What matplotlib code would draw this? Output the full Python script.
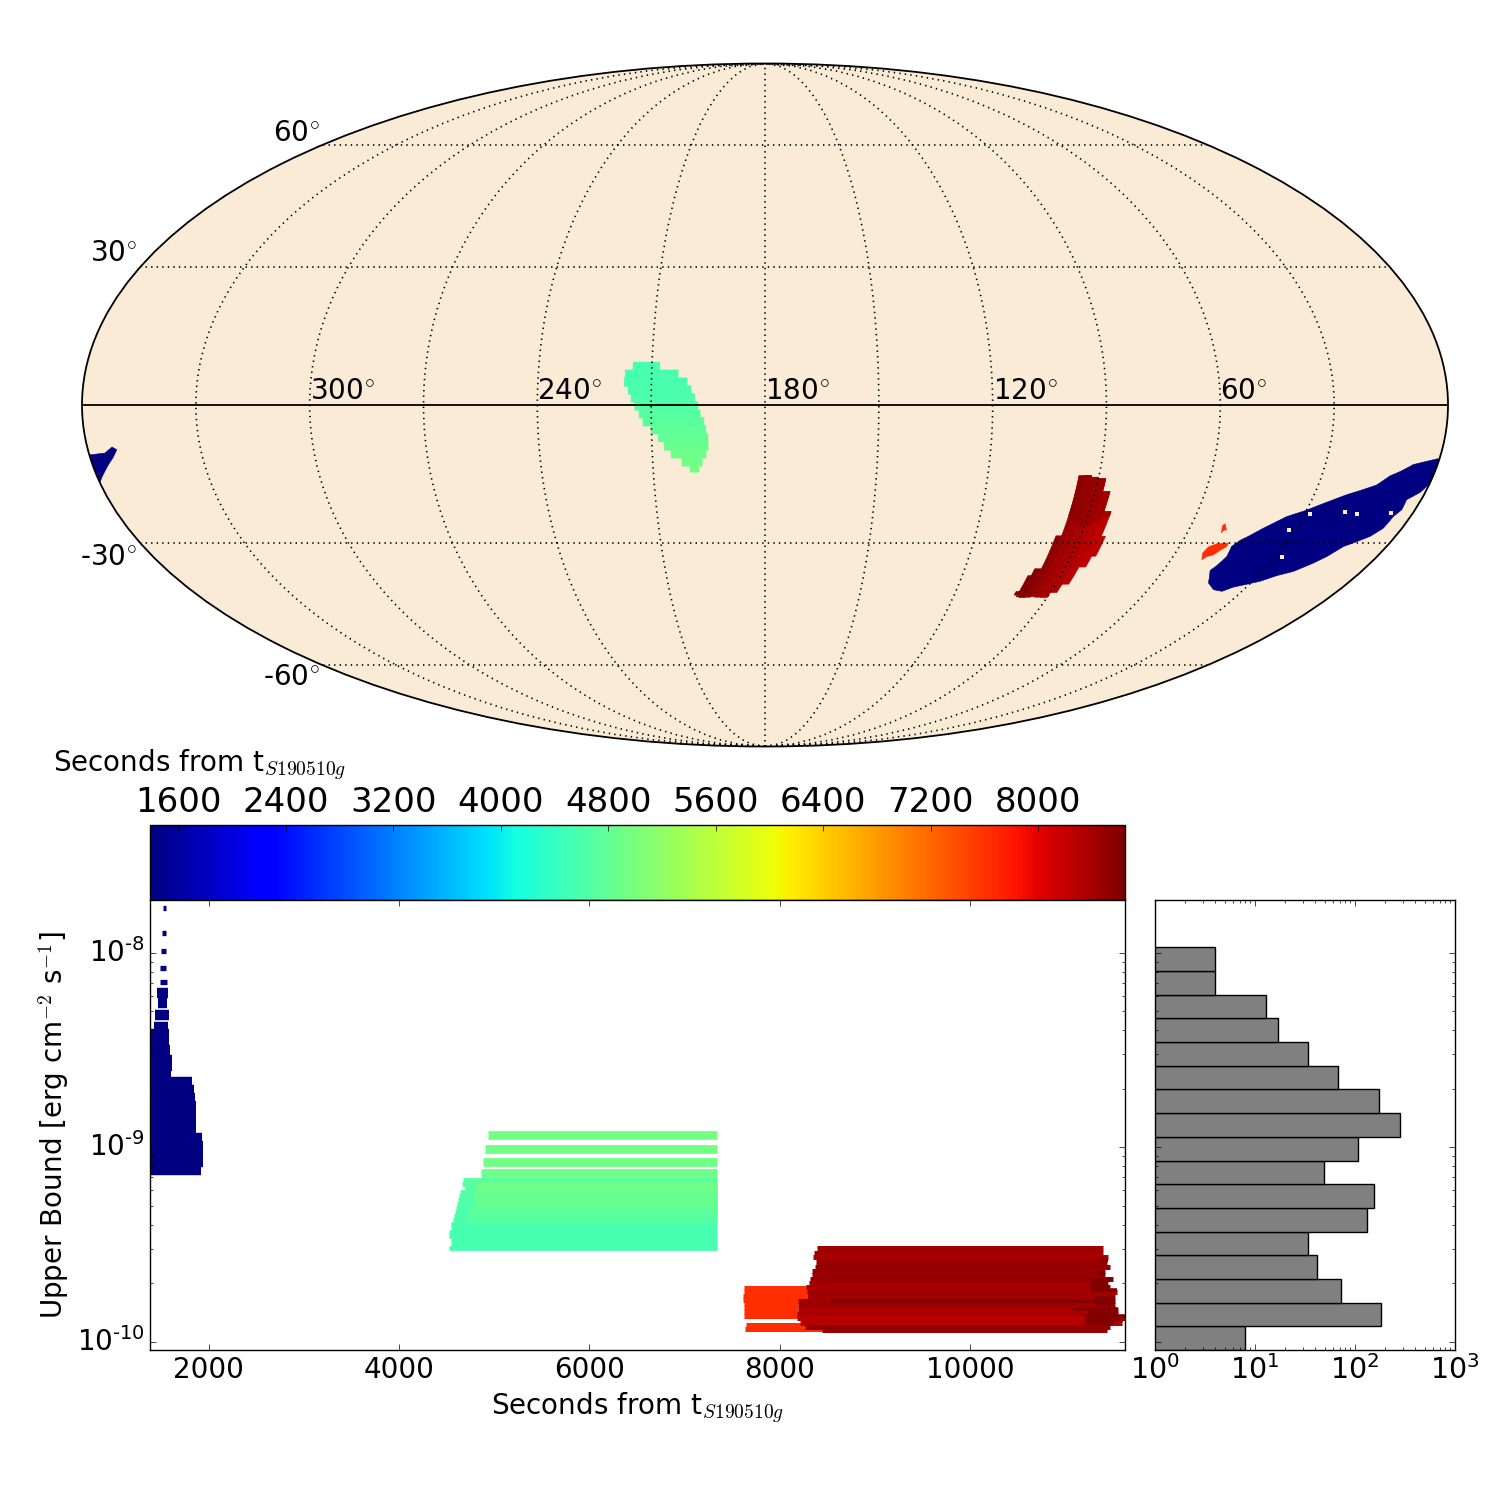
#!/usr/bin/env python3

import numpy as np
import matplotlib
matplotlib.use("Agg")
import matplotlib.pyplot as plt
from matplotlib.cm import ScalarMappable
from matplotlib.colors import Normalize
from matplotlib.ticker import FixedFormatter, FixedLocator, FuncFormatter, NullFormatter
from matplotlib.transforms import Affine2D


# sky map outlines, degrees
navy_ra = [43.1, 45.9, 45.1, 44.2, 44.9, 43.6, 42, 39.2, 36.5, 34.5, 30.3, 27, 24.1, 21.1, 18, 14.2, 11.6, 9.4, 6.5,
           3.2, 0.3, 0, 0.2, 1.4, 4, 3.7, 4.8, 5.3, 7.2, 10.5, 12.5, 14.8, 17, 20.5, 24.3, 27.6, 31.2, 34.1, 36.3, 39.5]
navy_dec = [-39.2, -36.3, -35.2, -33.1, -30.8, -29.4, -28.5, -26.7, -25.2, -24.1, -22.8, -21.5, -20.4, -19.3, -18.4,
            -17.2, -15.2, -14.3, -12.8, -12.1, -11.5, -13.2, -17.2, -18.8, -20.4, -22.6, -24.1, -26.7, -28.5, -30,
            -30.8, -33.1, -34.6, -36.5, -37.5, -38.8, -39.6, -40.2, -41.2, -40.8]
wrap_ra = [359.8, 355.7, 353.4, 352.3, 353.9, 356.3, 358.9, 360, 360, 360]
wrap_dec = [-10.7, -10.3, -9, -9.6, -11.3, -13.3, -15.6, -16.7, -14.6, -12.8]
orange_a_ra = [50.9, 52, 51.5, 49.7, 46.5, 46.3, 47.5, 48.5, 50.1]
orange_a_dec = [-33.8, -32.3, -30.9, -30.2, -30, -30.8, -31.7, -32.7, -33.1]
orange_b_ra = [50.3, 51.1, 50.7, 49.3, 50]
orange_b_dec = [-27.7, -26.2, -25.7, -27.1, -27.1]
holes_ra = [28.5, 31.6, 19.1, 15.4, 6.1, 27.9]
holes_dec = [-23.5, -27.1, -23.1, -23.5, -23.3, -33.1]

sky_green_ra0 = [215, 217, 217.2, 216.1, 215.3, 214.3, 213.2, 212.2, 210.1, 208.3, 206.8, 205, 202.2, 200.1]
sky_green_ra1 = [207.9, 203, 200.6, 199.5, 198.5, 197.7, 197.1, 196.1, 195.6, 195.1, 195.1, 195.7, 196.8, 197.7]
sky_green_dec = [8.3, 6.6, 4.9, 3.2, 1.5, -0.2, -1.9, -3.6, -5.3, -7, -8.8, -10.5, -12.2, -13.5]
sky_green_time = [4550, 4560, 4570, 4590, 4620, 4650, 4690, 4730, 4770, 4810, 4850, 4890, 4920, 4950]

sky_red_ra0 = [82.8, 84, 86, 88, 90, 92, 94, 95.4, 97, 99, 100]
sky_red_ra1 = [84, 86, 88, 90, 92, 94, 95.4, 97, 99, 100, 101]
sky_red_dec0 = [-33, -35.5, -39.5, -41.5, -42.7, -42.6, -42.5, -42.6, -42.7, -42.5, -42.1]
sky_red_dec1 = [-28.5, -23, -18.6, -15.8, -15.5, -15.1, -15.2, -28.4, -35.9, -37.5, -41.2]
sky_red_time = [8270, 8270, 8300, 8340, 8390, 8440, 8500, 8560, 8600, 8630, 8646]
# the northern end of the red patch started later than its middle
sky_north_ra0 = [84, 86, 88, 90, 92, 94]
sky_north_ra1 = [86, 88, 90, 92, 94, 95.4]
sky_north_dec0 = [-24, -25, -26, -26, -25, -24]
sky_north_dec1 = [-23, -18.6, -15.8, -15.5, -15.1, -15.2]
sky_north_time = [8400, 8420, 8450, 8480, 8520, 8560]

ra_labels = ["300", "240", "180", "120", "60"]
ra_label_lon = [-120, -60, 0, 60, 120]
lon_grid = [-150, -120, -90, -60, -30, 0, 30, 60, 90, 120, 150]
lat_grid = [-60, -30, 30, 60]
lat_labels = ["-60", "-30", "30", "60"]

# colorbar
time_min = 1390
time_max = 8646
colorbar_ticks = [1600, 2400, 3200, 4000, 4800, 5600, 6400, 7200, 8000]

# upper bound rows: start, end, flux in units of 1e-10, start time colour
navy_dot_start = [1522, 1511, 1501, 1490, 1490]
navy_dot_end = [1553, 1553, 1553, 1553, 1564]
navy_dot_flux = [169.754, 126.266, 102.033, 83.433, 70.690]

navy_start = [1459, 1469, 1438, 1427, 1396, 1396, 1385, 1385, 1385, 1385, 1385, 1385, 1385, 1385, 1385, 1385, 1385,
              1385, 1385, 1385, 1385, 1385]
navy_end = [1574, 1564, 1585, 1574, 1580, 1585, 1595, 1616, 1611, 1606, 1826, 1847, 1858, 1868, 1868, 1868, 1868,
            1931, 1942, 1942, 1942, 1921]
navy_flux = [62.059, 55.130, 47.829, 41.495, 38.2, 35.576, 31.604, 28.076, 26.15, 24.357, 21.638, 19.683, 17.904,
             16.286, 14.815, 13.476, 12.258, 11.151, 10.143, 9.227, 8.393, 7.634]

green_top_start = [4932, 4904, 4886, 4865]
green_top_end = [7337, 7337, 7337, 7337]
green_top_flux = [11.508, 9.828, 8.393, 7.368]
green_top_time = [4950, 4940, 4920, 4900]

green_base_start = [4669, 4662, 4694, 4641, 4634, 4620, 4613, 4599, 4589, 4578, 4564, 4550, 4543, 4529, 4529, 4543,
                    4543, 4526]
green_base_end = [7337] * 18
green_base_flux = [6.782, 6.468, 6.169, 5.884, 5.612, 5.352, 5.105, 4.869, 4.643, 4.429, 4.224, 4.028, 3.842, 3.664,
                   3.495, 3.333, 3.179, 3.032]
green_base_time = [4680, 4680, 4680, 4660, 4650, 4640, 4630, 4620, 4600, 4590, 4580, 4570, 4560, 4550, 4550, 4550,
                   4550, 4550]

green_over_start = [4816, 4816, 4816, 4799, 4799, 4799, 4781, 4764, 4729, 4711, 4711]
green_over_end = [7337] * 11
green_over_flux = [6.782, 6.468, 6.169, 5.884, 5.612, 5.352, 5.105, 4.869, 4.643, 4.429, 4.224]
green_over_time = [4720, 4900, 4880, 4860, 4830, 4850, 4800, 4800, 4750, 4700, 4690]

orange_start = [7624, 7624, 7617, 7617, 7624, 7624, 7624, 7624, 7645, 7635]
orange_end = [8283, 8346, 8290, 8318, 8195, 8195, 8188, 8188, 8458, 8451]
orange_flux = [1.881, 1.794, 1.711, 1.632, 1.556, 1.484, 1.416, 1.350, 1.219, 1.162]

red_start = [8395, 8360, 8353, 8381, 8370, 8335, 8335, 8318, 8311, 8276, 8290, 8290, 8195, 8528, 8195, 8195, 8178,
             8178, 8213, 8265, 8440]
red_end = [11392, 11392, 11451, 11434, 11469, 11416, 11416, 11504, 11451, 11469, 11539, 11521, 8600, 11521, 11521,
           11556, 11556, 11626, 11591, 11469, 11434]
red_flux = [3.020, 2.869, 2.715, 2.579, 2.431, 2.319, 2.203, 2.092, 1.996, 1.903, 1.808, 1.704, 1.619, 1.619, 1.544,
            1.455, 1.383, 1.319, 1.253, 1.195, 1.149]
red_time = [8444, 8412, 8380, 8475, 8505, 8456, 8475, 8505, 8412, 8380, 8444, 8412, 8444, 8600, 8444, 8350, 8380,
            8287, 8287, 8505, 8505]

tail_start = [11329, 11346, 11294, 11259, 11259, 11276, 11311, 11311, 11084, 11241, 11206, 11206, 11206]
tail_end = [11451, 11416, 11504, 11451, 11469, 11539, 11521, 11504, 11556, 11556, 11626, 11609, 11504]
tail_flux = [2.631, 2.246, 2.076, 1.996, 1.918, 1.844, 1.671, 1.563, 1.467, 1.410, 1.356, 1.293, 1.243]

# histogram of the upper bounds
hist_edges_log = [-10.043, -9.921, -9.799, -9.678, -9.556, -9.434, -9.312, -9.191, -9.069, -8.947, -8.825, -8.703,
                  -8.582, -8.460, -8.338, -8.216, -8.094, -7.972]
hist_counts = [8, 181, 72, 42, 34, 131, 154, 49, 106, 280, 172, 67, 34, 17, 13, 4, 4]


def sky_xy(ra, dec):
    return np.radians(180 - np.asarray(ra, float)), np.radians(np.asarray(dec, float))


def fill_strips(ax, ra0, ra1, dec0, dec1, times, cmap, norm):
    for a, b, low, high, t in zip(ra0, ra1, dec0, dec1, times):
        lon, lat = sky_xy([a, b, b, a], [low, low, high, high])
        ax.fill(lon, lat, color=cmap(norm(t)), lw=0.4)


def shift_label(label, dx, dy):
    label.set_transform(label.get_transform() + Affine2D().translate(dx, dy))


def draw_sky(ax, cmap, norm):
    ax.set_longitude_grid_ends(90)
    ax.xaxis.set_major_locator(FixedLocator(np.radians(lon_grid)))
    names = []
    for lon in lon_grid:
        if lon in ra_label_lon:
            names.append(ra_labels[ra_label_lon.index(lon)] + r"$^{\circ}$")
        else:
            names.append("")
    ax.xaxis.set_major_formatter(FixedFormatter(names))
    ax.yaxis.set_major_locator(FixedLocator(np.radians(lat_grid)))
    ax.yaxis.set_major_formatter(FixedFormatter([s + r"$^{\circ}$" for s in lat_labels]))
    ax.tick_params(labelsize=20)
    ax.grid(True, color="k", linestyle=":", linewidth=1.2)
    for spine in ax.spines.values():
        spine.set_linewidth(1.3)

    for tick in ax.xaxis.get_major_ticks():
        tick.label1.set_horizontalalignment("left")
        tick.label1.set_verticalalignment("bottom")
        shift_label(tick.label1, 0, -4)
    aligns = {-60: "bottom", -30: "center", 30: "center", 60: "top"}
    for tick, lat in zip(ax.yaxis.get_major_ticks(), lat_grid):
        tick.label1.set_verticalalignment(aligns[lat])
        shift_label(tick.label1, 5, 0)

    ax.fill(*sky_xy(navy_ra, navy_dec), color=cmap(norm(time_min)), lw=0.4)
    ax.fill(*sky_xy(wrap_ra, wrap_dec), color=cmap(norm(time_min)), lw=0.4)
    ax.scatter(*sky_xy(holes_ra, holes_dec), marker="s", s=9, color="antiquewhite", linewidths=0, zorder=1.5)
    ax.fill(*sky_xy(orange_a_ra, orange_a_dec), color=cmap(norm(7640)), lw=0.4)
    ax.fill(*sky_xy(orange_b_ra, orange_b_dec), color=cmap(norm(7640)), lw=0.4)

    low = [d - 0.9 for d in sky_green_dec]
    high = [d + 0.9 for d in sky_green_dec]
    fill_strips(ax, sky_green_ra0, sky_green_ra1, low, high, sky_green_time, cmap, norm)
    fill_strips(ax, sky_red_ra0, sky_red_ra1, sky_red_dec0, sky_red_dec1, sky_red_time, cmap, norm)
    fill_strips(ax, sky_north_ra0, sky_north_ra1, sky_north_dec0, sky_north_dec1, sky_north_time, cmap, norm)

    ax.plot([-np.pi, np.pi], [0, 0], color="k", lw=1.3, zorder=5)


def rows(ax, start, end, flux, times, lw, cmap, norm):
    scaled = np.asarray(flux) * 1e-10
    colors = [cmap(norm(t)) for t in times]
    ax.hlines(scaled, start, end, colors=colors, linewidth=lw)


def hyphen_power(value, _pos):
    # plain hyphen in the exponent, not a long minus
    power = int(round(np.log10(value)))
    sign = "\u2010" if power < 0 else ""
    return "$\\mathdefault{10^{" + sign + str(abs(power)) + "}}$"


def draw_bounds(ax, cmap, norm):
    rows(ax, navy_dot_start, navy_dot_end, navy_dot_flux, [time_min] * 5, 3.8, cmap, norm)
    rows(ax, navy_start, navy_end, navy_flux, [time_min] * len(navy_flux), 7.5, cmap, norm)
    rows(ax, green_base_start, green_base_end, green_base_flux, green_base_time, 3.4, cmap, norm)
    rows(ax, green_over_start, green_over_end, green_over_flux, green_over_time, 3.4, cmap, norm)
    rows(ax, green_top_start, green_top_end, green_top_flux, green_top_time, 6.3, cmap, norm)
    rows(ax, orange_start, orange_end, orange_flux, [7640] * 10, 3.6, cmap, norm)
    rows(ax, red_start, red_end, red_flux, red_time, 3.6, cmap, norm)
    rows(ax, tail_start, tail_end, tail_flux, [8620] * 13, 2.6, cmap, norm)

    ax.set_yscale("log")
    ax.set_xlim(1385, 11627)
    ax.set_ylim(9.06e-11, 1.866e-8)
    ax.set_xticks([2000, 4000, 6000, 8000, 10000])
    ax.yaxis.set_major_formatter(FuncFormatter(hyphen_power))
    ax.tick_params(labelsize=20)
    ax.set_xlabel(r"Seconds from t$_{S190510g}$", fontsize=20, labelpad=5)
    ax.set_ylabel(r"Upper Bound [erg cm$^{-2}$ s$^{-1}$]", fontsize=20, labelpad=4)


def draw_hist(ax):
    edges = 10.0 ** np.asarray(hist_edges_log)
    ax.barh(edges[:-1], hist_counts, height=np.diff(edges), align="edge", color="gray", edgecolor="k")
    ax.set_xscale("log")
    ax.set_yscale("log")
    ax.set_xlim(1, 1000)
    ax.set_ylim(9.06e-11, 1.866e-8)
    ax.yaxis.set_major_formatter(NullFormatter())
    ax.yaxis.set_minor_formatter(NullFormatter())
    ax.tick_params(axis="x", labelsize=20.5)


def main() -> None:
    plt.style.use("classic")
    plt.rcParams["font.family"] = ["DejaVu Sans"]
    plt.rcParams["axes.unicode_minus"] = False
    plt.rcParams["mathtext.fontset"] = "cm"

    cmap = plt.get_cmap("jet")
    norm = Normalize(time_min, time_max)

    fig = plt.figure(figsize=(15, 15), dpi=100, facecolor="white")
    sky_ax = fig.add_axes([82 / 1500, 1 - 747 / 1500, 1366 / 1500, 684 / 1500],
                          projection="mollweide", facecolor="antiquewhite")
    draw_sky(sky_ax, cmap, norm)

    cax = fig.add_axes([150 / 1500, 1 - 900 / 1500, 975 / 1500, 75 / 1500])
    bar = fig.colorbar(ScalarMappable(norm=norm, cmap=cmap), cax=cax, orientation="horizontal", ticks=colorbar_ticks)
    cax.xaxis.set_ticks_position("top")
    cax.xaxis.set_label_position("top")
    bar.ax.tick_params(labelsize=24.5, direction="in")
    bar.minorticks_off()
    fig.text(53 / 1500, 1 - 765 / 1500, r"Seconds from t$_{S190510g}$", fontsize=20, va="center")

    bound_ax = fig.add_axes([150 / 1500, 1 - 1350 / 1500, 975 / 1500, 450 / 1500])
    draw_bounds(bound_ax, cmap, norm)

    hist_ax = fig.add_axes([1155 / 1500, 1 - 1350 / 1500, 300 / 1500, 450 / 1500])
    draw_hist(hist_ax)

    fig.savefig("out.png", dpi=100, facecolor="white")
    plt.close(fig)


if __name__ == "__main__":
    main()
